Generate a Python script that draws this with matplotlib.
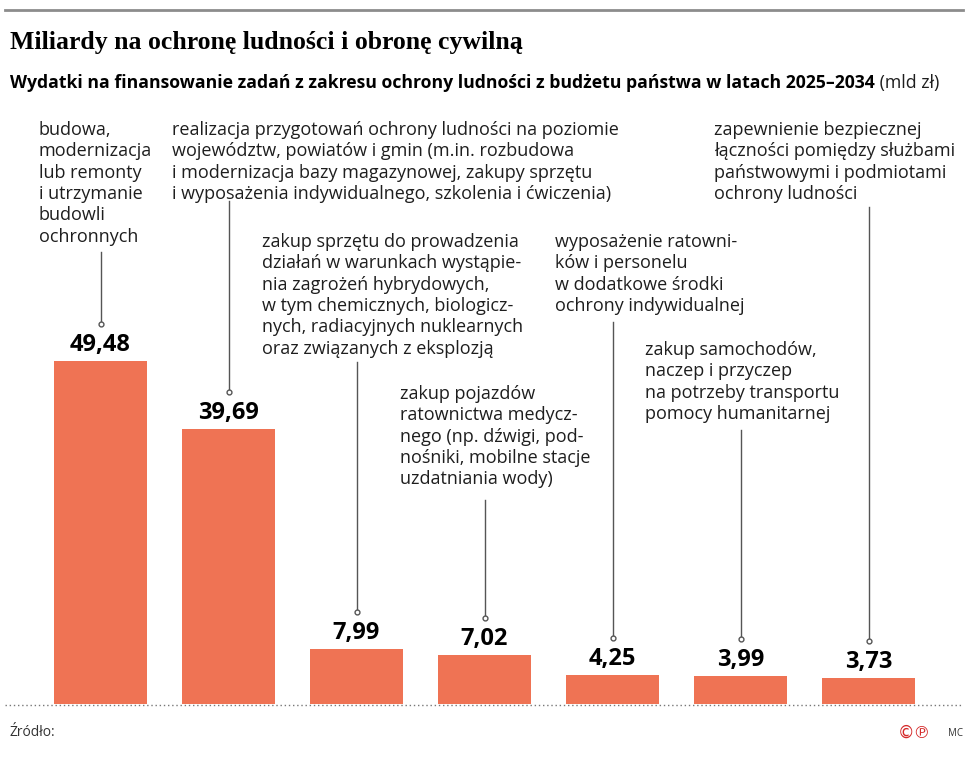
import numpy as np
import matplotlib
matplotlib.use('Agg')
import matplotlib.pyplot as plt
from matplotlib.transforms import offset_copy

# values in billions PLN, 2025-2034
values = [49.48, 39.69, 7.99, 7.02, 4.25, 3.99, 3.73]
valueLabels = ['49,48', '39,69', '7,99', '7,02', '4,25', '3,99', '3,73']
descriptions = [
    "budowa,\nmodernizacja\nlub remonty\ni utrzymanie\nbudowli\nochronnych",
    "realizacja przygotowań ochrony ludności na poziomie\nwojewództw, powiatów i gmin (m.in. rozbudowa\n"
    "i modernizacja bazy magazynowej, zakupy sprzętu\ni wyposażenia indywidualnego, szkolenia i ćwiczenia)",
    "zakup sprzętu do prowadzenia\ndziałań w warunkach wystąpie-\nnia zagrożeń hybrydowych,\n"
    "w tym chemicznych, biologicz-\nnych, radiacyjnych nuklearnych\noraz związanych z eksplozją",
    "zakup pojazdów\nratownictwa medycz-\nnego (np. dźwigi, pod-\nnośniki, mobilne stacje\nuzdatniania wody)",
    "wyposażenie ratowni-\nków i personelu\nw dodatkowe środki\nochrony indywidualnej",
    "zakup samochodów,\nnaczep i przyczep\nna potrzeby transportu\npomocy humanitarnej",
    "zapewnienie bezpiecznej\nłączności pomiędzy służbami\npaństwowymi i podmiotami\nochrony ludności",
]

titleText = "Miliardy na ochronę ludności i obronę cywilną"
subtitleText = "Wydatki na finansowanie zadań z zakresu ochrony ludności z budżetu państwa w latach 2025–2034"
unitText = " (mld zł)"

# layout: (text left px, text top px, leader line top px) measured from top-left
descLayout = [(39, 121, 252), (172, 121, 201), (262, 233, 362), (400, 385, 500),
              (555, 233, 322), (645, 341, 430), (714, 121, 207)]

W, H, DPI = 966, 760, 100
barColor = '#ef7354'
textColor = '#1e1e1e'
lineColor = '#555555'
plt.rcParams['font.family'] = ['Open Sans', 'DejaVu Sans']

fig = plt.figure(figsize=(W / DPI, H / DPI), dpi=DPI)
ax = fig.add_axes([0, 0, 1, 1])

# map data so bar centres sit every 128 px and the baseline is at y=704 px
pxPerUnit = 6.93
spacing = 128.0
firstCentre = 100.5
baseline = 704
ax.set_xlim(-firstCentre / spacing, (W - firstCentre) / spacing)
ax.set_ylim(-(H - baseline) / pxPerUnit, baseline / pxPerUnit)
ax.axis('off')

xPos = np.arange(len(values))
ax.bar(xPos, values, width=93 / spacing, color=barColor, zorder=2)


def figXY(px, py):
    return px / W, 1 - py / H


labelTrans = offset_copy(ax.transData, fig=fig, y=4, units='dots')
for i, (v, lab) in enumerate(zip(values, valueLabels)):
    ax.text(i, v, lab, transform=labelTrans, ha='center', va='bottom',
            fontsize=17, fontweight='bold', color='black')

for i, (desc, (tx, ty, lineTop)) in enumerate(zip(descriptions, descLayout)):
    fig.text(*figXY(tx, ty), desc, ha='left', va='top', fontsize=13,
             color=textColor, linespacing=1.24)
    # leader line from text down to just above the value label
    barTopPx = ax.transData.transform((i, values[i]))
    dotY = barTopPx[1] + 37
    cx = barTopPx[0]
    fig.add_artist(plt.Line2D([cx / W, cx / W], [dotY / H, 1 - lineTop / H],
                              transform=fig.transFigure, color=lineColor, lw=1))
    fig.add_artist(plt.Line2D([cx / W], [dotY / H], transform=fig.transFigure,
                              marker='o', ms=3.5, mfc='white', mec=lineColor, mew=1))

# top rule and dotted baseline
fig.add_artist(plt.Line2D([5 / W, 963 / W], [1 - 10 / H] * 2, transform=fig.transFigure,
                          color='#8c8c8c', lw=2))
fig.add_artist(plt.Line2D([5 / W, 963 / W], [1 - (baseline + 1) / H] * 2,
                          transform=fig.transFigure, color='#777777', lw=1, ls=(0, (1, 2))))

fig.text(*figXY(10, 42), titleText, ha='left', va='center', fontsize=18.5,
         family='Liberation Serif', fontweight='bold', color='black')
sub = fig.text(*figXY(10, 83), subtitleText, ha='left', va='center', fontsize=12.7,
               fontweight='bold', color='black')
fig.canvas.draw()
subBox = sub.get_window_extent()
fig.text(subBox.x1 / W, 1 - 83 / H, unitText, ha='left', va='center', fontsize=12.7,
         color=textColor)

fig.text(*figXY(10, 733), "Źródło:", ha='left', va='center', fontsize=10, color='#333333')
fig.text(*figXY(898, 733), "©℗", ha='left', va='center', fontsize=12,
         family=['DejaVu Sans'], color='#d42a2a')
fig.text(*figXY(948, 733), "MC", ha='left', va='center', fontsize=7, color='#333333')

fig.savefig('out.png', dpi=DPI)
